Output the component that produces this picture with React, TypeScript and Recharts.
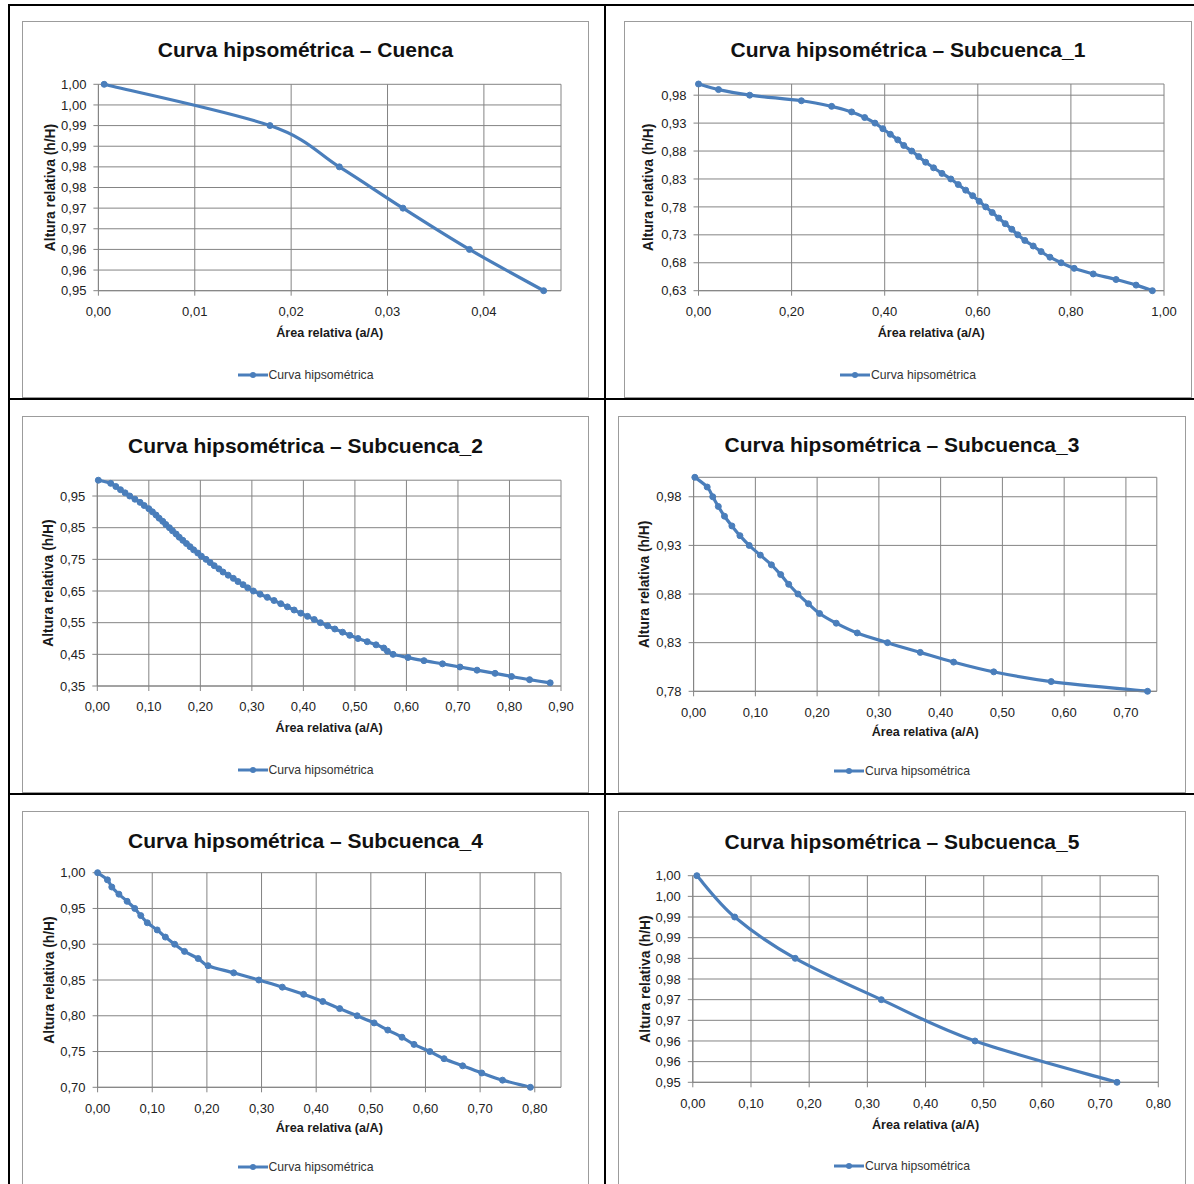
import React from 'react';
import { LineChart, Line, XAxis, YAxis, CartesianGrid, Legend } from 'recharts';

const BLUE = '#4A7EBB';
const GRID = '#848484';
const FONT = "'Liberation Sans', Arial, sans-serif";

// Cuenca
const cuencaArea = [0.0006, 0.0178, 0.025, 0.0316, 0.0385, 0.0462];
const cuencaAltura = [1.0, 0.99, 0.98, 0.97, 0.96, 0.95];
const cuencaXTicks = [0, 0.01, 0.02, 0.03, 0.04];
const cuencaYTicks = [0.95, 0.955, 0.96, 0.965, 0.97, 0.975, 0.98, 0.985, 0.99, 0.995, 1.0];

// Subcuenca_1
const sub1Area = [
  0.0, 0.043, 0.11, 0.221, 0.286, 0.329, 0.357, 0.379, 0.396, 0.412, 0.428, 0.441, 0.458,
  0.473, 0.488, 0.505, 0.523, 0.542, 0.558, 0.574, 0.589, 0.603, 0.617, 0.631, 0.645, 0.659,
  0.673, 0.686, 0.701, 0.719, 0.736, 0.755, 0.779, 0.807, 0.848, 0.897, 0.94, 0.975,
];
const sub1Altura = [
  1.0, 0.99, 0.98, 0.97, 0.96, 0.95, 0.94, 0.93, 0.92, 0.91, 0.9, 0.89, 0.88, 0.87, 0.86,
  0.85, 0.84, 0.83, 0.82, 0.81, 0.8, 0.79, 0.78, 0.77, 0.76, 0.75, 0.74, 0.73, 0.72, 0.71,
  0.7, 0.69, 0.68, 0.67, 0.66, 0.65, 0.64, 0.63,
];
const sub1XTicks = [0, 0.2, 0.4, 0.6, 0.8, 1.0];
const sub1YTicks = [0.63, 0.68, 0.73, 0.78, 0.83, 0.88, 0.93, 0.98];

// Subcuenca_2
const sub2Area = [
  0.002, 0.026, 0.036, 0.045, 0.054, 0.063, 0.073, 0.083, 0.091, 0.1,
  0.107, 0.114, 0.12, 0.127, 0.133, 0.14, 0.146, 0.153, 0.159, 0.166,
  0.173, 0.18, 0.187, 0.195, 0.202, 0.211, 0.219, 0.227, 0.236, 0.244,
  0.254, 0.264, 0.273, 0.283, 0.292, 0.303, 0.316, 0.33, 0.343, 0.356,
  0.369, 0.382, 0.395, 0.408, 0.421, 0.433, 0.447, 0.461, 0.476, 0.49,
  0.506, 0.524, 0.541, 0.556, 0.563, 0.574, 0.603, 0.634, 0.67, 0.704,
  0.737, 0.772, 0.804, 0.839, 0.879,
];
const sub2Altura = [
  1.0, 0.99, 0.98, 0.97, 0.96, 0.95, 0.94, 0.93, 0.92, 0.91,
  0.9, 0.89, 0.88, 0.87, 0.86, 0.85, 0.84, 0.83, 0.82, 0.81,
  0.8, 0.79, 0.78, 0.77, 0.76, 0.75, 0.74, 0.73, 0.72, 0.71,
  0.7, 0.69, 0.68, 0.67, 0.66, 0.65, 0.64, 0.63, 0.62, 0.61,
  0.6, 0.59, 0.58, 0.57, 0.56, 0.55, 0.54, 0.53, 0.52, 0.51,
  0.5, 0.49, 0.48, 0.47, 0.46, 0.45, 0.44, 0.43, 0.42, 0.41,
  0.4, 0.39, 0.38, 0.37, 0.36,
];
const sub2XTicks = [0, 0.1, 0.2, 0.3, 0.4, 0.5, 0.6, 0.7, 0.8, 0.9];
const sub2YTicks = [0.35, 0.45, 0.55, 0.65, 0.75, 0.85, 0.95];

// Subcuenca_3
const sub3Area = [
  0.002, 0.022, 0.031, 0.04, 0.05, 0.062, 0.075, 0.09, 0.108, 0.126, 0.141, 0.154,
  0.169, 0.186, 0.204, 0.231, 0.265, 0.314, 0.367, 0.421, 0.486, 0.579, 0.735,
];
const sub3Altura = [
  1.0, 0.99, 0.98, 0.97, 0.96, 0.95, 0.94, 0.93, 0.92, 0.91, 0.9, 0.89,
  0.88, 0.87, 0.86, 0.85, 0.84, 0.83, 0.82, 0.81, 0.8, 0.79, 0.78,
];
const sub3XTicks = [0, 0.1, 0.2, 0.3, 0.4, 0.5, 0.6, 0.7];
const sub3YTicks = [0.78, 0.83, 0.88, 0.93, 0.98];

// Subcuenca_4
const sub4Area = [
  0.0, 0.018, 0.026, 0.039, 0.054, 0.068, 0.079, 0.091, 0.109, 0.124,
  0.141, 0.159, 0.184, 0.202, 0.249, 0.295, 0.338, 0.377, 0.412, 0.443,
  0.475, 0.506, 0.531, 0.557, 0.579, 0.608, 0.634, 0.668, 0.703, 0.741, 0.792,
];
const sub4Altura = [
  1.0, 0.99, 0.98, 0.97, 0.96, 0.95, 0.94, 0.93, 0.92, 0.91,
  0.9, 0.89, 0.88, 0.87, 0.86, 0.85, 0.84, 0.83, 0.82, 0.81,
  0.8, 0.79, 0.78, 0.77, 0.76, 0.75, 0.74, 0.73, 0.72, 0.71, 0.7,
];
const sub4XTicks = [0, 0.1, 0.2, 0.3, 0.4, 0.5, 0.6, 0.7, 0.8];
const sub4YTicks = [0.7, 0.75, 0.8, 0.85, 0.9, 0.95, 1.0];

// Subcuenca_5
const sub5Area = [0.007, 0.072, 0.176, 0.324, 0.485, 0.729];
const sub5Altura = [1.0, 0.99, 0.98, 0.97, 0.96, 0.95];
const sub5XTicks = [0, 0.1, 0.2, 0.3, 0.4, 0.5, 0.6, 0.7, 0.8];
const sub5YTicks = [0.95, 0.955, 0.96, 0.965, 0.97, 0.975, 0.98, 0.985, 0.99, 0.995, 1.0];

const toRows = (xs: number[], ys: number[]) => xs.map((x, i) => ({ x, y: ys[i] }));

// Excel-style 2-decimal labels with a comma
const fmt = (v: number) => (Math.round(v * 100 + 1e-6) / 100).toFixed(2).replace('.', ',');

// Excel "smoothed line": cubic bezier, control points from neighbours / 6
function excelSmooth(context: any) {
  let pts: [number, number][] = [];
  return {
    areaStart() {},
    areaEnd() {},
    lineStart() {
      pts = [];
    },
    point(x: number, y: number) {
      pts.push([+x, +y]);
    },
    lineEnd() {
      const n = pts.length;
      if (!n) return;
      context.moveTo(pts[0][0], pts[0][1]);
      for (let i = 0; i < n - 1; i++) {
        const p0 = pts[Math.max(i - 1, 0)];
        const p1 = pts[i];
        const p2 = pts[i + 1];
        const p3 = pts[Math.min(i + 2, n - 1)];
        context.bezierCurveTo(
          p1[0] + (p2[0] - p0[0]) / 6,
          p1[1] + (p2[1] - p0[1]) / 6,
          p2[0] - (p3[0] - p1[0]) / 6,
          p2[1] - (p3[1] - p1[1]) / 6,
          p2[0],
          p2[1],
        );
      }
    },
  };
}

interface Box { left: number; top: number; width: number; height: number }
interface Plot { left: number; top: number; right: number; bottom: number }

interface Spec {
  title: string;
  rows: { x: number; y: number }[];
  xMax: number;
  xTicks: number[];
  yMin: number;
  yMax: number;
  yTicks: number[];
  box: Box;
  plot: Plot;
  titleY: number;
  yTitleX: number;
  xTitleY: number;
  legendY: number;
}

const specs: Spec[] = [
  {
    title: 'Curva hipsométrica – Cuenca',
    rows: toRows(cuencaArea, cuencaAltura),
    xMax: 0.048, xTicks: cuencaXTicks, yMin: 0.95, yMax: 1.0, yTicks: cuencaYTicks,
    box: { left: 22, top: 21, width: 567, height: 377 },
    plot: { left: 98.4, top: 84.3, right: 561, bottom: 290.7 },
    titleY: 50, yTitleX: 50, xTitleY: 333, legendY: 375,
  },
  {
    title: 'Curva hipsométrica – Subcuenca_1',
    rows: toRows(sub1Area, sub1Altura),
    xMax: 1.0, xTicks: sub1XTicks, yMin: 0.63, yMax: 1.0, yTicks: sub1YTicks,
    box: { left: 624, top: 21, width: 568, height: 377 },
    plot: { left: 698.5, top: 84, right: 1164, bottom: 290.7 },
    titleY: 50, yTitleX: 649, xTitleY: 333, legendY: 375,
  },
  {
    title: 'Curva hipsométrica – Subcuenca_2',
    rows: toRows(sub2Area, sub2Altura),
    xMax: 0.9, xTicks: sub2XTicks, yMin: 0.35, yMax: 1.0, yTicks: sub2YTicks,
    box: { left: 22, top: 416, width: 567, height: 377 },
    plot: { left: 97.3, top: 480.2, right: 561, bottom: 686 },
    titleY: 446, yTitleX: 49, xTitleY: 728, legendY: 770,
  },
  {
    title: 'Curva hipsométrica – Subcuenca_3',
    rows: toRows(sub3Area, sub3Altura),
    xMax: 0.75, xTicks: sub3XTicks, yMin: 0.78, yMax: 1.0, yTicks: sub3YTicks,
    box: { left: 618, top: 416, width: 568, height: 377 },
    plot: { left: 693.6, top: 477.3, right: 1156.8, bottom: 691.3 },
    titleY: 445, yTitleX: 645, xTitleY: 732, legendY: 771,
  },
  {
    title: 'Curva hipsométrica – Subcuenca_4',
    rows: toRows(sub4Area, sub4Altura),
    xMax: 0.848, xTicks: sub4XTicks, yMin: 0.7, yMax: 1.0, yTicks: sub4YTicks,
    box: { left: 22, top: 811, width: 567, height: 377 },
    plot: { left: 97.6, top: 872.7, right: 561, bottom: 1087.3 },
    titleY: 841, yTitleX: 49, xTitleY: 1128, legendY: 1167,
  },
  {
    title: 'Curva hipsométrica – Subcuenca_5',
    rows: toRows(sub5Area, sub5Altura),
    xMax: 0.8, xTicks: sub5XTicks, yMin: 0.95, yMax: 1.0, yTicks: sub5YTicks,
    box: { left: 618, top: 811, width: 568, height: 377 },
    plot: { left: 692.8, top: 875.7, right: 1158.3, bottom: 1082.3 },
    titleY: 842, yTitleX: 645, xTitleY: 1125, legendY: 1166,
  },
];

function LegendContent() {
  return (
    <div
      style={{
        display: 'flex',
        justifyContent: 'center',
        alignItems: 'center',
        height: 16,
        fontFamily: FONT,
        fontSize: 12.2,
        color: '#333',
      }}
    >
      <svg width={30} height={10} style={{ marginRight: 1 }}>
        <line x1={0} y1={5} x2={30} y2={5} stroke={BLUE} strokeWidth={3} />
        <circle cx={15} cy={5} r={3} fill={BLUE} />
      </svg>
      <span>Curva hipsométrica</span>
    </div>
  );
}

function HypsoChart({ spec }: { spec: Spec }) {
  const { box, plot } = spec;
  const cl = box.left + 1;
  const ct = box.top + 1;
  const w = box.width - 2;
  const h = box.height - 2;
  const YW = 60;
  const XH = 30;
  const margin = {
    left: plot.left - cl - YW,
    top: plot.top - ct,
    right: cl + w - plot.right,
    bottom: ct + h - plot.bottom - XH,
  };
  const tickStyle = { fontSize: 13, fill: '#222', fontFamily: FONT };
  const yMid = (plot.top + plot.bottom) / 2 - ct;
  const yTx = spec.yTitleX - cl;

  return (
    <div
      style={{
        position: 'absolute',
        left: box.left,
        top: box.top,
        width: box.width,
        height: box.height,
        boxSizing: 'border-box',
        border: '1px solid #9C9C9C',
        background: '#fff',
      }}
    >
      <div style={{ position: 'absolute', left: 0, top: 0 }}>
        <LineChart width={w} height={h} data={spec.rows} margin={margin}>
          <CartesianGrid stroke={GRID} />
          <XAxis
            type="number"
            dataKey="x"
            domain={[0, spec.xMax]}
            ticks={spec.xTicks}
            interval={0}
            height={XH}
            tickFormatter={fmt}
            tick={tickStyle}
            tickSize={5}
            tickMargin={11}
            axisLine={{ stroke: GRID }}
            tickLine={{ stroke: GRID }}
            label={() => (
              <text
                x={(plot.left + plot.right) / 2 - cl}
                y={spec.xTitleY - ct}
                textAnchor="middle"
                dominantBaseline="central"
                fontFamily={FONT}
                fontWeight="bold"
                fontSize={12.6}
                fill="#1a1a1a"
              >
                Área relativa (a/A)
              </text>
            )}
          />
          <YAxis
            type="number"
            dataKey="y"
            domain={[spec.yMin, spec.yMax]}
            ticks={spec.yTicks}
            interval={0}
            width={YW}
            tickFormatter={fmt}
            tick={tickStyle}
            tickSize={5}
            tickMargin={7}
            axisLine={{ stroke: GRID }}
            tickLine={{ stroke: GRID }}
            label={() => (
              <text
                x={yTx}
                y={yMid}
                transform={`rotate(-90 ${yTx} ${yMid})`}
                textAnchor="middle"
                dominantBaseline="central"
                fontFamily={FONT}
                fontWeight="bold"
                fontSize={13.8}
                fill="#1a1a1a"
              >
                Altura relativa (h/H)
              </text>
            )}
          />
          <Line
            type={excelSmooth as any}
            dataKey="y"
            stroke={BLUE}
            strokeWidth={3.2}
            dot={{ r: 3, fill: BLUE, stroke: BLUE, strokeWidth: 1 }}
            activeDot={false}
            isAnimationActive={false}
          />
          <Legend
            layout="horizontal"
            verticalAlign="middle"
            align="center"
            wrapperStyle={{ top: spec.legendY - ct - 8, left: 0, width: w }}
            content={() => <LegendContent />}
          />
        </LineChart>
      </div>
      <div
        style={{
          position: 'absolute',
          left: 0,
          top: spec.titleY - ct - 13,
          width: '100%',
          textAlign: 'center',
          fontFamily: FONT,
          fontWeight: 'bold',
          fontSize: 21,
          lineHeight: '26px',
          color: '#111',
        }}
      >
        {spec.title}
      </div>
    </div>
  );
}

const rule = (left: number, top: number, width: number, height: number) => (
  <div style={{ position: 'absolute', left, top, width, height, background: '#000' }} />
);

export default function App() {
  return (
    <div
      style={{
        position: 'absolute',
        left: 0,
        top: 0,
        width: 1194,
        height: 1184,
        overflow: 'hidden',
        background: '#fff',
      }}
    >
      {specs.map((s) => (
        <HypsoChart key={s.title} spec={s} />
      ))}
      {rule(8, 4, 1186, 2)}
      {rule(8, 4, 2, 1180)}
      {rule(604, 4, 2, 1180)}
      {rule(8, 398, 1186, 2)}
      {rule(8, 793, 1186, 2)}
    </div>
  );
}
